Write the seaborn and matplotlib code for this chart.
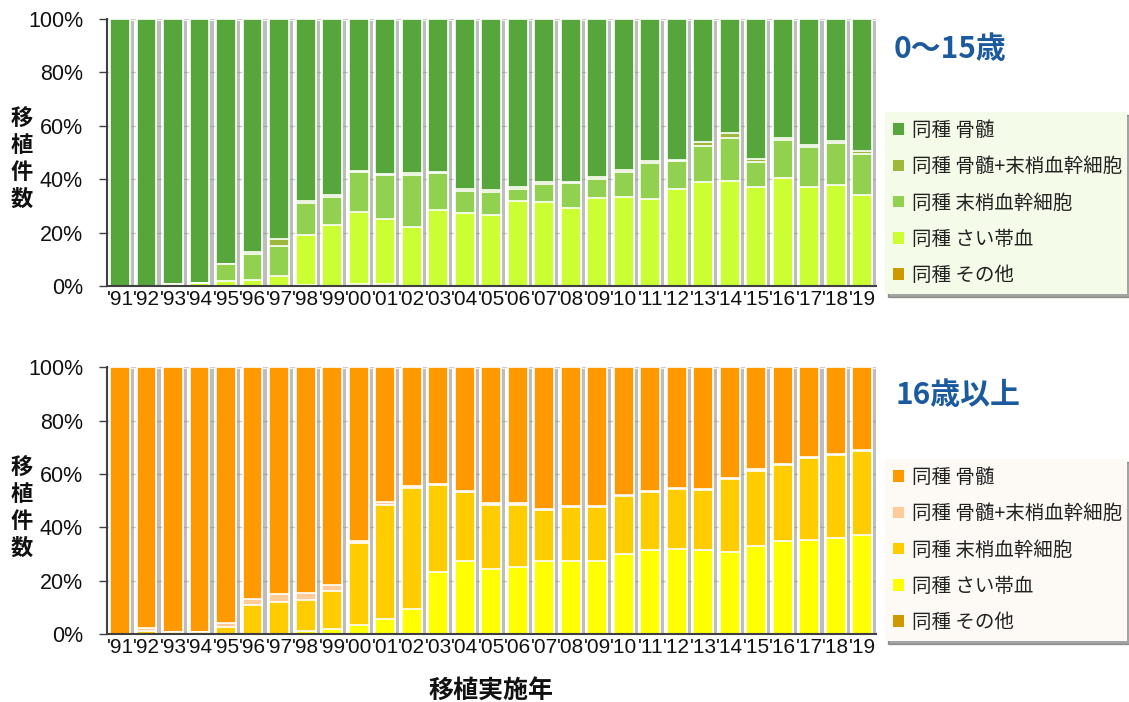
import numpy as np
import pandas as pd
import matplotlib
matplotlib.use("Agg")
import matplotlib.pyplot as plt
import matplotlib.patheffects as pe
from matplotlib.patches import Patch
from matplotlib.ticker import FixedLocator, PercentFormatter
import seaborn as sns

sns.set_style("white")
plt.rcParams['font.family'] = ['Liberation Sans', 'Noto Sans CJK JP', 'DejaVu Sans']

years = ["'91", "'92", "'93", "'94", "'95", "'96", "'97", "'98", "'99", "'00",
         "'01", "'02", "'03", "'04", "'05", "'06", "'07", "'08", "'09", "'10",
         "'11", "'12", "'13", "'14", "'15", "'16", "'17", "'18", "'19"]

series_names = ["同種 骨髄", "同種 骨髄+末梢血幹細胞", "同種 末梢血幹細胞", "同種 さい帯血", "同種 その他"]

# ---- 0～15歳 (percent) ----
child_other = [0, 0, 0, 0, 0, 0, 0, 0.5, 0, 0.6, 0.6, 0, 0, 0, 0, 0, 0, 0, 0, 0,
               0, 0, 0, 0, 0, 0, 0, 0, 0]
child_cord = [0, 0, 0.6, 1.2, 1.7, 2.4, 3.7, 18.5, 22.9, 27.0, 24.5, 22.0, 28.4, 27.5, 26.5,
              31.7, 31.6, 29.1, 33.1, 33.2, 32.5, 36.4, 38.9, 39.2, 36.9, 40.4, 37.0, 38.0, 34.0]
child_pbsc = [0, 0, 0, 0, 6.7, 9.4, 11.4, 11.9, 10.5, 15.0, 16.6, 19.5, 13.9, 7.9, 8.6,
              4.8, 6.6, 9.4, 7.0, 9.4, 13.4, 10.3, 13.7, 16.3, 9.7, 14.1, 14.9, 15.6, 15.6]
child_bmpb = [0, 0, 0, 0, 0, 1.0, 2.5, 1.0, 0.8, 0.5, 0.4, 0.9, 0.5, 0.8, 0.8,
              0.7, 0.8, 0.5, 0.8, 0.9, 1.1, 0.5, 1.3, 1.9, 0.8, 1.1, 0.8, 0.8, 0.9]
child_bm = [100, 100, 99.4, 98.8, 91.6, 87.2, 82.4, 68.1, 65.8, 56.9, 57.9, 57.6, 57.2, 63.8, 64.1,
            62.8, 61.0, 61.0, 59.1, 56.5, 53.0, 52.8, 46.1, 42.6, 52.6, 44.4, 47.3, 45.6, 49.5]

# ---- 16歳以上 (percent) ----
adult_other = [0] * 29
adult_cord = [0, 0, 0, 0, 0, 0, 0, 1.0, 1.7, 3.4, 5.6, 9.4, 23.2, 27.5, 24.2,
              25.1, 27.2, 27.4, 27.4, 30.0, 31.5, 31.9, 31.4, 30.7, 32.9, 35.0, 35.4, 35.9, 37.0]
adult_pbsc = [0, 1.2, 0.7, 0.7, 2.6, 10.7, 12.1, 11.6, 14.5, 30.8, 42.8, 45.3, 32.5, 25.7, 24.2,
              23.4, 19.4, 20.1, 20.1, 21.6, 21.7, 22.3, 22.7, 27.5, 28.4, 28.2, 30.7, 31.3, 31.7]
adult_bmpb = [0, 0.9, 0, 0, 1.4, 2.3, 3.0, 2.9, 2.2, 0.8, 1.2, 0.7, 0.7, 0.4, 0.6,
              0.6, 0.3, 0.4, 0.5, 0.4, 0.4, 0.4, 0.3, 0.4, 0.6, 0.4, 0.3, 0.3, 0.3]
adult_bm = [100, 97.9, 99.3, 99.3, 96.0, 87.0, 84.9, 84.5, 81.6, 65.0, 50.4, 44.6, 43.6, 46.4, 51.0,
            50.9, 53.1, 52.1, 52.0, 48.0, 46.4, 45.4, 45.6, 41.4, 38.1, 36.4, 33.6, 32.5, 31.0]

child_colors = ["#57a63b", "#9db83a", "#92d050", "#ccff33", "#cc9900"]
adult_colors = ["#ff9900", "#ffcc99", "#ffcc00", "#ffff00", "#cc9900"]

W, H = 1129, 702
fig = plt.figure(figsize=(W / 100, H / 100), dpi=100)
fig.patch.set_facecolor("white")

ax_left = 106.7 / W
ax_w = 769 / W
ax1 = fig.add_axes([ax_left, 1 - 286 / H, ax_w, 267 / H])
ax2 = fig.add_axes([ax_left, 1 - 634 / H, ax_w, 266.7 / H])


def draw_panel(ax, bm, bmpb, pbsc, cord, other, colors):
    # stacking order bottom -> top: other, cord, pbsc, bmpb, bm
    stack = [other, cord, pbsc, bmpb, bm]
    stack_colors = [colors[4], colors[3], colors[2], colors[1], colors[0]]
    cum = np.cumsum(np.array(stack, dtype=float), axis=0)
    ax.set_axisbelow(True)
    ax.yaxis.grid(True, color="#cccccc", lw=1)
    ax.xaxis.grid(False)
    for i in range(len(stack) - 1, -1, -1):
        df = pd.DataFrame({"year": years, "value": cum[i]})
        n_before = len(ax.patches)
        sns.barplot(data=df, x="year", y="value", order=years, color=stack_colors[i],
                    saturation=1, width=0.75, edgecolor="white", linewidth=1.2,
                    errorbar=None, ax=ax)
        if i == len(stack) - 1:
            for p in ax.patches[n_before:]:
                p.set_path_effects([pe.SimplePatchShadow(offset=(3, -1.5), shadow_rgbFace="#888888", alpha=0.55),
                                    pe.Normal()])
    ax.set_xlim(-0.5, len(years) - 0.5)
    ax.set_ylim(0, 100)
    ax.set_yticks(np.arange(0, 101, 20))
    ax.yaxis.set_major_formatter(PercentFormatter(decimals=0))
    ax.xaxis.set_minor_locator(FixedLocator(np.arange(-0.5, len(years), 1)))
    ax.tick_params(axis="x", which="major", length=0, pad=3, labelsize=15, labelcolor="#111111")
    ax.tick_params(axis="x", which="minor", length=6, width=1, color="#404040", direction="out")
    ax.tick_params(axis="y", which="major", length=6, width=1, color="#404040", direction="out",
                   pad=11, labelsize=15.5, labelcolor="#111111", left=True)
    ax.set_xlabel("")
    ax.set_ylabel("")
    for s in ["top", "right"]:
        ax.spines[s].set_visible(False)
    for s in ["left", "bottom"]:
        ax.spines[s].set_color("#404040")
        ax.spines[s].set_linewidth(1.5)


draw_panel(ax1, child_bm, child_bmpb, child_pbsc, child_cord, child_other, child_colors)
draw_panel(ax2, adult_bm, adult_bmpb, adult_pbsc, adult_cord, adult_other, adult_colors)

cjk = ["Noto Sans CJK JP", "DejaVu Sans"]

# titles
fig.text(894 / W, 1 - 49 / H, "0～15歳", ha="left", va="center", fontsize=21.5, fontweight="bold",
         color="#1b5a9e", family=cjk)
fig.text(896 / W, 1 - 395 / H, "16歳以上", ha="left", va="center", fontsize=21.5, fontweight="bold",
         color="#1b5a9e", family=cjk)

# y-axis labels (vertical stacked)
fig.text(22 / W, 1 - 159 / H, "移\n植\n件\n数", ha="center", va="center", fontsize=16,
         fontweight="bold", linespacing=1.2, color="#111111", family=cjk)
fig.text(22 / W, 1 - 508 / H, "移\n植\n件\n数", ha="center", va="center", fontsize=16,
         fontweight="bold", linespacing=1.2, color="#111111", family=cjk)

# x label
fig.text(491 / W, 1 - 691 / H, "移植実施年", ha="center", va="center", fontsize=18,
         fontweight="bold", color="#111111", family=cjk)


def add_legend(colors, top_px, bottom_px, face):
    handles = [Patch(facecolor=c, edgecolor="none") for c in colors]
    leg = fig.legend(handles, series_names, loc="upper left",
                     bbox_to_anchor=(885 / W, 1 - bottom_px / H, 242 / W, (bottom_px - top_px) / H),
                     mode="expand", frameon=True, fancybox=False, shadow=True,
                     facecolor=face, edgecolor="none", framealpha=1,
                     prop={"family": cjk, "size": 14}, labelcolor="#222222",
                     handlelength=0.55, handleheight=0.55, handletextpad=0.4,
                     labelspacing=0.78, borderpad=0.42, borderaxespad=0)
    return leg


add_legend(child_colors, 112, 298, "#f4fce9")
add_legend(adult_colors, 459, 647, "#fdfaf5")

fig.savefig("out.png", dpi=100)
